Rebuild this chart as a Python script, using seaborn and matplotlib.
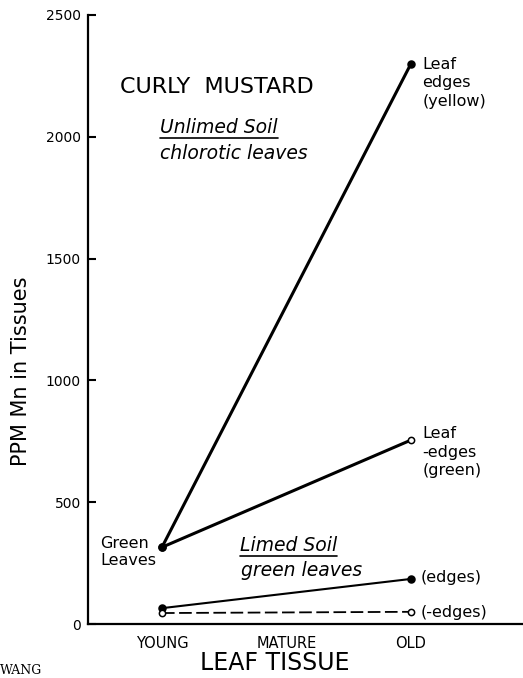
import matplotlib
matplotlib.use("Agg")
import matplotlib.pyplot as plt
import seaborn as sns
import pandas as pd
from matplotlib.lines import Line2D

# data
tissue_labels = ["YOUNG", "MATURE", "OLD"]
sample_tissue = ["YOUNG", "OLD"]
unlimed_edges = [315, 2300]      # chlorotic leaves, leaf edges (yellow)
unlimed_no_edges = [315, 755]    # leaf minus edges (green)
limed_edges = [65, 185]
limed_no_edges = [45, 50]
y_ticks = [0, 500, 1000, 1500, 2000, 2500]

rows = []
for name, vals in [("unlimed_edges", unlimed_edges), ("unlimed_no_edges", unlimed_no_edges),
                   ("limed_edges", limed_edges), ("limed_no_edges", limed_no_edges)]:
    for t, v in zip(sample_tissue, vals):
        rows.append({"series": name, "tissue": t, "pos": tissue_labels.index(t), "ppm": v})
df = pd.DataFrame(rows)

# styles: line width, dash, which ends are open circles
styles = {
    "unlimed_edges": dict(lw=2.2, ls="-", open=[False, False]),
    "unlimed_no_edges": dict(lw=2.2, ls="-", open=[False, True]),
    "limed_edges": dict(lw=1.5, ls="-", open=[False, False]),
    "limed_no_edges": dict(lw=1.3, ls=(0, (7, 2.5)), open=[True, True]),
}

sns.set_style("ticks")
plt.rcParams["font.family"] = ["DejaVu Sans"]
# scanned figure: plain black ink everywhere
for key in ["text.color", "axes.labelcolor", "xtick.color", "ytick.color", "axes.edgecolor"]:
    plt.rcParams[key] = "black"

W, H = 523, 678
fig = plt.figure(figsize=(W / 100, H / 100), dpi=100)
ax = fig.add_axes([88 / W, 54 / H, (W - 88) / W, (624 - 15) / H])

for name, st in styles.items():
    sub = df[df["series"] == name]
    sns.lineplot(data=sub, x="pos", y="ppm", ax=ax, color="black",
                 linewidth=st["lw"], linestyle=st["ls"], legend=False)
    for (_, r), is_open in zip(sub.iterrows(), st["open"]):
        ax.plot(r["pos"], r["ppm"], marker="o", linestyle="none",
                markersize=4.5 if is_open else 5,
                markerfacecolor="white" if is_open else "black",
                markeredgecolor="black", markeredgewidth=1.1, zorder=5)

ax.set_xlim(-0.594, 2.9)
ax.set_ylim(0, 2500)
ax.set_xticks(range(len(tissue_labels)))
ax.set_xticklabels(tissue_labels, fontsize=10.5)
ax.set_yticks(y_ticks)
ax.set_yticklabels([str(v) for v in y_ticks], fontsize=10)
ax.tick_params(axis="y", direction="in", length=6, width=1.5, pad=5)
ax.tick_params(axis="x", length=0, pad=9)
sns.despine(ax=ax, top=True, right=True)
for s in ["left", "bottom"]:
    ax.spines[s].set_linewidth(1.6)

ax.set_xlabel("LEAF TISSUE", fontsize=17)
ax.xaxis.set_label_coords((275 - 88) / (W - 88), -0.045)
ax.set_ylabel("PPM Mn in Tissues", fontsize=15)
ax.yaxis.set_label_coords(-0.131, 0.415)

# annotations
ax.text(-0.337, 2205, "CURLY  MUSTARD", fontsize=16, va="center", ha="left")
t1 = ax.text(-0.016, 2037, "Unlimed Soil", fontsize=13.5, style="italic", va="center")
ax.text(-0.016, 1930, "chlorotic leaves", fontsize=13.5, style="italic", va="center")
ax.text(-0.498, 295, "Green\nLeaves", fontsize=11.5, va="center", linespacing=1.2)
t2 = ax.text(0.627, 324, "Limed Soil", fontsize=13.5, style="italic", va="center")
ax.text(0.635, 221, "green leaves", fontsize=13.5, style="italic", va="center")
ax.text(2.09, 2221, "Leaf\nedges\n(yellow)", fontsize=11.5, va="center", linespacing=1.3)
ax.text(2.09, 705, "Leaf\n-edges\n(green)", fontsize=11.5, va="center", linespacing=1.3)
ax.text(2.08, 189, "(edges)", fontsize=11.5, va="center")
ax.text(2.08, 49, "(-edges)", fontsize=11.5, va="center")
fig.text(0.0, 0.002, "WANG", fontsize=9, family="serif", va="bottom", ha="left")

# underline the soil headings
fig.canvas.draw()
for t in (t1, t2):
    bb = t.get_window_extent()
    fig.add_artist(Line2D([bb.x0, bb.x1], [bb.y0 - 1, bb.y0 - 1], color="black",
                          linewidth=1.2, transform=None))

fig.savefig("out.png", dpi=100)
